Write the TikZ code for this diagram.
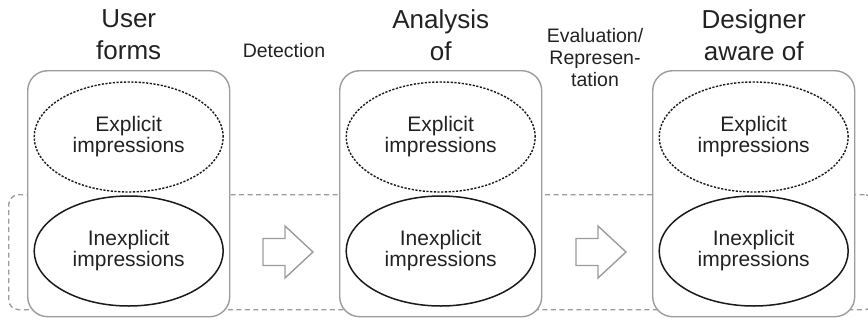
\documentclass[tikz,border=0pt]{standalone}
\usepackage{fontspec}
\setmainfont{Liberation Sans}
\usetikzlibrary{shapes.geometric}
\definecolor{ink}{HTML}{222222}
\definecolor{boxline}{HTML}{9C9C9C}
\definecolor{rim}{HTML}{1A1A1A}
\begin{document}
\begin{tikzpicture}[x=1pt,y=-1pt,
  stagebox/.style={draw=boxline, line width=1.4pt, fill=white, rounded corners=20pt,
    minimum width=202pt, minimum height=246pt, inner sep=0pt, anchor=north west},
  loopframe/.style={draw=boxline, line width=1.4pt, dash pattern=on 5pt off 3.5pt,
    rounded corners=10pt, minimum width=866pt, minimum height=115pt, inner sep=0pt,
    anchor=north west},
  impression/.style={ellipse, minimum width=189pt, minimum height=110pt, inner sep=0pt,
    align=center, text=ink, font=\fontsize{21}{21}\selectfont},
  explicit/.style={impression, draw=rim, line width=1.4pt, dash pattern=on 2.2pt off 1.5pt},
  inexplicit/.style={impression, draw=rim, line width=1.5pt},
  stagetitle/.style={align=center, inner sep=0pt, anchor=north, text=ink,
    font=\fontsize{26}{32}\selectfont},
  steplabel/.style={align=center, inner sep=0pt, text=ink,
    font=\fontsize{19.5}{22}\selectfont},
  blockarrow/.style={draw=boxline, line width=1.4pt, fill=white, line join=miter}
]
\useasboundingbox (0,0) rectangle (868,322);
\clip (0,0) rectangle (868,322);

% dashed loop running behind the three stages
\node[loopframe] (loop) at (8,194) {};

% stage boxes
\node[stagebox] (box1) at (27,70) {};
\node[stagebox] (box2) at (339,70) {};
\node[stagebox] (box3) at (652,70) {};

% impressions inside each stage
\node[explicit]   (ex1) at (box1.center |- 0,137) {Explicit\\impressions};
\node[inexplicit] (in1) at (box1.center |- 0,251) {Inexplicit\\impressions};
\node[explicit]   (ex2) at (box2.center |- 0,137) {Explicit\\impressions};
\node[inexplicit] (in2) at (box2.center |- 0,251) {Inexplicit\\impressions};
\node[explicit]   (ex3) at (box3.center |- 0,137) {Explicit\\impressions};
\node[inexplicit] (in3) at (box3.center |- 0,251) {Inexplicit\\impressions};

% stage titles
\node[stagetitle] (t1) at (box1.center |- 0,9.4) {User\\forms};
\node[stagetitle] (t2) at (box2.center |- 0,9.4) {Analysis\\of};
\node[stagetitle] (t3) at (box3.center |- 0,9.4) {Designer\\aware of};

% transition labels
\node[steplabel, anchor=base] (l1) at (284,57) {Detection};
\node[steplabel, anchor=north] (l2) at (595,28) {Evaluation/\\Represen-\\tation};

% block arrows between stages
\coordinate (a1) at (263,252);
\coordinate (a2) at (576,252);
\foreach \c in {a1,a2}{
  \draw[blockarrow, shift={(\c)}] (0,-13.5) -- (22,-13.5) -- (22,-26) -- (50,0)
    -- (22,26) -- (22,13.5) -- (0,13.5) -- cycle;
}
\end{tikzpicture}
\end{document}
